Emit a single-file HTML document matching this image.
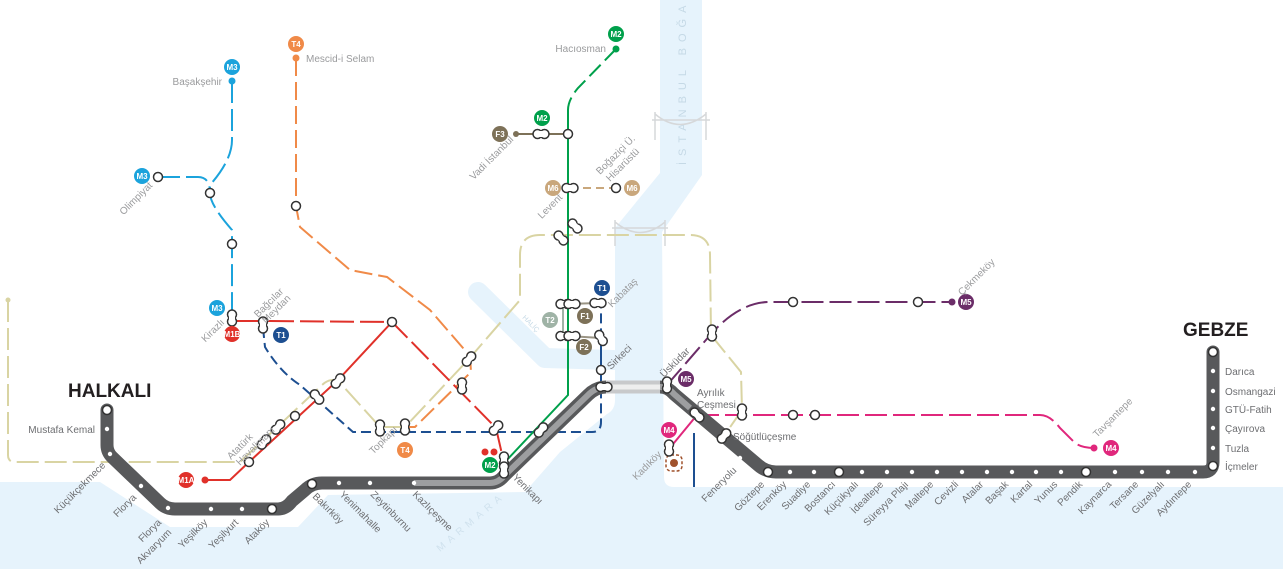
<!DOCTYPE html>
<html><head><meta charset="utf-8"><style>
html,body{margin:0;padding:0;background:#fff;}
svg{display:block;font-family:"Liberation Sans",sans-serif;}
.l{font-size:10px;fill:#6d6e71;}
.g{font-size:10px;fill:#9a9b9d;}
.b{font-size:8px;font-weight:bold;fill:#fff;text-anchor:middle;}
</style></head><body>
<svg width="1283" height="569" viewBox="0 0 1283 569" xmlns="http://www.w3.org/2000/svg">
<defs>
<g id="cap"><circle cx="-3.5" cy="0" r="4.5" fill="#fff" stroke="#333" stroke-width="1.5"/><circle cx="3.5" cy="0" r="4.5" fill="#fff" stroke="#333" stroke-width="1.5"/><rect x="-3.5" y="-3" width="7" height="6" fill="#fff"/></g>
<g id="st"><circle r="4.5" fill="#fff" stroke="#333" stroke-width="1.5"/></g>
</defs>
<rect width="1283" height="569" fill="#e6f3fc"/>
<!-- land -->
<path d="M0,0 L660,0 L660,173 L615,228 L615,400 Q615,410 607,414 L560,452 L525,492 L328,495 L298,527 L170,527 L100,482 L0,482 Z" fill="#fff"/>
<path d="M702,0 L1283,0 L1283,487 L674,487 Q664,487 664,477 L662,232 L702,175 Z" fill="#fff"/>
<path d="M478,292 L545,358 L613,360" fill="none" stroke="#e6f3fc" stroke-width="20" stroke-linecap="round" stroke-linejoin="round"/>
<text x="0" y="0" transform="translate(686,165) rotate(-90)" font-size="11" fill="#c5d9e6" letter-spacing="6">İSTANBUL BOĞAZI</text>
<text x="0" y="0" transform="translate(522,318) rotate(45)" font-size="7" fill="#c5d9e6">HALİÇ</text>
<text x="440" y="552" transform="rotate(-40 440 552)" font-size="10" fill="#d0e2ee" letter-spacing="5">MARMARA</text>
<!-- bridges -->
<g stroke="#d6d8da" stroke-width="1.5" fill="none">
<path d="M652,120 L710,120 M655,112 L655,140 M706,112 L706,140 M655,114 Q680,135 706,114"/>
<path d="M612,228 L668,228 M615,220 L615,246 M665,220 L665,246 M615,222 Q640,243 665,222"/>
</g>
<!-- beige line -->
<g fill="none" stroke="#d9d4a3" stroke-width="2" stroke-dasharray="22,6">
<path d="M8,300 L8,455 Q8,462 15,462 L240,462 L322,385 Q333,375 342,385 L380,427 L405,427 L468,360 L520,300 L520,255 Q520,235 540,235 L690,235 Q710,235 710,255 L711,335 L741,372 L742,410 L724,436"/>
</g>
<circle cx="8" cy="300" r="2.5" fill="#d9d4a3"/>
<!-- orange T4 -->
<path d="M296,58 L296,206 L300,227 L350,270 L387,277 L430,310 L470,356 L471,372 L415,427 L405,427" fill="none" stroke="#f08a48" stroke-width="2" stroke-dasharray="18,6"/>
<circle cx="296" cy="58" r="3.5" fill="#f08a48"/>
<!-- M3 -->
<path d="M232,81 L232,140 Q232,160 210,185 L210,193 Q210,205 232,230 L232,315" fill="none" stroke="#1ba3dc" stroke-width="2" stroke-dasharray="22,6"/>
<path d="M158,177 L198,177 Q210,177 210,193" fill="none" stroke="#1ba3dc" stroke-width="2" stroke-dasharray="22,6"/>
<circle cx="232" cy="81" r="3.5" fill="#1ba3dc"/>
<!-- red M1 -->
<path d="M232,321 L270,321" stroke="#e0312a" stroke-width="2"/>
<path d="M270,321 L392,322 L496,428 L504,463" fill="none" stroke="#e0312a" stroke-width="2" stroke-dasharray="24,6"/>
<path d="M392,322 L338,380 L249,462 L230,480 L205,480" fill="none" stroke="#e0312a" stroke-width="2"/>
<circle cx="205" cy="480" r="3.5" fill="#e0312a"/>
<!-- T1 -->
<path d="M263,328 L265,347 Q280,372 300,385 L353,432 L592,432 Q601,432 601,422 L601,305" fill="none" stroke="#1d4f91" stroke-width="2" stroke-dasharray="10,5"/>
<path d="M601,345 L601,387" stroke="#1d4f91" stroke-width="2"/>
<path d="M694,433 L694,487" stroke="#1d4f91" stroke-width="2"/>
<!-- M2 green -->
<path d="M616,49 L578,88 Q568,100 568,110" fill="none" stroke="#00a04b" stroke-width="2" stroke-dasharray="16,6"/>
<path d="M568,110 L568,395 L505,462" fill="none" stroke="#00a04b" stroke-width="2"/>
<circle cx="616" cy="49" r="3.5" fill="#00a04b"/>
<path d="M516,134 L568,134" stroke="#7d7158" stroke-width="2"/>
<circle cx="516" cy="134" r="3" fill="#7d7158"/>
<path d="M570,188 L616,188" stroke="#c9a77c" stroke-width="2" stroke-dasharray="8,5"/>
<!-- T2/F -->
<path d="M563,304 L563,336" stroke="#9fb3a6" stroke-width="2"/>
<path d="M568,304 L598,303 M568,336 L601,338" stroke="#9a9484" stroke-width="2"/>
<!-- M5 -->
<path d="M667,385 L712,333 Q740,302 770,302 L952,302" fill="none" stroke="#6b2d68" stroke-width="2" stroke-dasharray="22,6"/>
<circle cx="952" cy="302" r="3.5" fill="#6b2d68"/>
<!-- M4 -->
<path d="M669,449 L697,415" stroke="#e0277c" stroke-width="2"/>
<path d="M697,415 L1040,415 Q1050,415 1060,428 L1075,443 Q1082,448 1094,448" fill="none" stroke="#e0277c" stroke-width="2" stroke-dasharray="22,6"/>
<circle cx="1094" cy="448" r="3.5" fill="#e0277c"/>
<rect x="666" y="455" width="16" height="16" rx="5" fill="none" stroke="#a0522d" stroke-width="1.5" stroke-dasharray="3,2"/>
<circle cx="674" cy="463" r="4" fill="#a0522d"/>
<!-- Marmaray -->
<path d="M107,410 L107,445 Q107,452 112,457 L160,503 Q166,509 175,509 L278,509 Q286,509 292,501 L305,490 Q312,483 322,483 L490,483 Q498,483 504,476 L588,395 Q596,387 606,387 L660,387 Q668,387 674,394 L758,465 Q766,472 776,472 L1203,472 Q1213,472 1213,462 L1213,352" fill="none" stroke="#58595b" stroke-width="13" stroke-linecap="round" stroke-linejoin="round"/>
<path d="M414,483 L490,483 Q498,483 504,476 L588,395 Q596,387 606,387 L660,387 Q668,387 674,394 L690,408" fill="none" stroke="#9d9ea0" stroke-width="6"/>
<path d="M606,387 L660,387" stroke="#c8c9cb" stroke-width="13"/>
<path d="M606,387 L660,387" stroke="#eeeeee" stroke-width="5"/>
<!-- small dots -->
<g fill="#fff">
<circle cx="107" cy="429" r="2.2"/><circle cx="110" cy="454" r="2.2"/><circle cx="141" cy="486" r="2.2"/><circle cx="168" cy="508" r="2.2"/><circle cx="211" cy="509" r="2.2"/><circle cx="242" cy="509" r="2.2"/><circle cx="339" cy="483" r="2.2"/><circle cx="370" cy="483" r="2.2"/><circle cx="414" cy="483" r="2.2"/><circle cx="740" cy="458" r="2.2"/>
<circle cx="790" cy="472" r="2.2"/><circle cx="814" cy="472" r="2.2"/><circle cx="862" cy="472" r="2.2"/><circle cx="887" cy="472" r="2.2"/><circle cx="912" cy="472" r="2.2"/><circle cx="937" cy="472" r="2.2"/><circle cx="962" cy="472" r="2.2"/><circle cx="987" cy="472" r="2.2"/><circle cx="1012" cy="472" r="2.2"/><circle cx="1036" cy="472" r="2.2"/><circle cx="1061" cy="472" r="2.2"/><circle cx="1115" cy="472" r="2.2"/><circle cx="1142" cy="472" r="2.2"/><circle cx="1168" cy="472" r="2.2"/><circle cx="1195" cy="472" r="2.2"/>
<circle cx="1213" cy="371" r="2.2"/><circle cx="1213" cy="391" r="2.2"/><circle cx="1213" cy="409" r="2.2"/><circle cx="1213" cy="428" r="2.2"/><circle cx="1213" cy="448" r="2.2"/>
</g>
<!-- stations -->
<use href="#st" x="107" y="410"/><use href="#st" x="272" y="509"/><use href="#st" x="312" y="484"/><use href="#st" x="768" y="472"/><use href="#st" x="839" y="472"/><use href="#st" x="1086" y="472"/><use href="#st" x="1213" y="466"/><use href="#st" x="1213" y="352"/>
<use href="#st" x="158" y="177"/><use href="#st" x="210" y="193"/><use href="#st" x="232" y="244"/><use href="#st" x="296" y="206"/><use href="#st" x="392" y="322"/><use href="#st" x="249" y="462"/><use href="#st" x="295" y="416"/>
<use href="#st" x="568" y="134"/><use href="#st" x="616" y="188"/><use href="#st" x="601" y="370"/><use href="#st" x="793" y="302"/><use href="#st" x="918" y="302"/><use href="#st" x="793" y="415"/><use href="#st" x="815" y="415"/>
<!-- interchanges -->
<use href="#cap" transform="translate(232,318) rotate(90)"/><use href="#cap" transform="translate(263,325) rotate(90)"/>
<use href="#cap" transform="translate(338,381) rotate(-50)"/><use href="#cap" transform="translate(317,397) rotate(50)"/><use href="#cap" transform="translate(278,427) rotate(-50)"/><use href="#cap" transform="translate(264,442) rotate(-50)"/>
<use href="#cap" transform="translate(380,428) rotate(90)"/><use href="#cap" transform="translate(405,427) rotate(90)"/><use href="#cap" transform="translate(469,359) rotate(-50)"/><use href="#cap" transform="translate(462,386) rotate(90)"/><use href="#cap" transform="translate(496,428) rotate(-50)"/><use href="#cap" transform="translate(541,430) rotate(-50)"/>
<use href="#cap" transform="translate(504,460) rotate(90)"/><use href="#cap" transform="translate(504,470) rotate(90)"/>
<use href="#cap" transform="translate(541,134)"/><use href="#cap" transform="translate(570,188)"/><use href="#cap" transform="translate(575,226) rotate(45)"/><use href="#cap" transform="translate(561,238) rotate(45)"/>
<use href="#cap" transform="translate(564,304)"/><use href="#cap" transform="translate(572,304)"/><use href="#cap" transform="translate(598,303)"/><use href="#cap" transform="translate(564,336)"/><use href="#cap" transform="translate(572,336)"/><use href="#cap" transform="translate(601,338) rotate(60)"/>
<use href="#cap" transform="translate(604,387)"/><use href="#cap" transform="translate(667,385) rotate(90)"/><use href="#cap" transform="translate(712,333) rotate(90)"/><use href="#cap" transform="translate(697,415) rotate(45)"/><use href="#cap" transform="translate(742,412) rotate(90)"/><use href="#cap" transform="translate(724,436) rotate(-50)"/><use href="#cap" transform="translate(669,448) rotate(90)"/>
<!-- badges -->
<g>
<circle cx="616" cy="34" r="8" fill="#00a04b"/><text class="b" x="616" y="37">M2</text>
<circle cx="542" cy="118" r="8" fill="#00a04b"/><text class="b" x="542" y="121">M2</text>
<circle cx="500" cy="134" r="8" fill="#7d7158"/><text class="b" x="500" y="137">F3</text>
<circle cx="553" cy="188" r="8" fill="#c9a77c"/><text class="b" x="553" y="191">M6</text>
<circle cx="632" cy="188" r="8" fill="#c9a77c"/><text class="b" x="632" y="191">M6</text>
<circle cx="602" cy="288" r="8" fill="#1d4f91"/><text class="b" x="602" y="291">T1</text>
<circle cx="550" cy="320" r="8" fill="#9fb3a6"/><text class="b" x="550" y="323">T2</text>
<circle cx="585" cy="316" r="8" fill="#7d7158"/><text class="b" x="585" y="319">F1</text>
<circle cx="584" cy="347" r="8" fill="#7d7158"/><text class="b" x="584" y="350">F2</text>
<circle cx="296" cy="44" r="8" fill="#f08a48"/><text class="b" x="296" y="47">T4</text>
<circle cx="405" cy="450" r="8" fill="#f08a48"/><text class="b" x="405" y="453">T4</text>
<circle cx="232" cy="67" r="8" fill="#1ba3dc"/><text class="b" x="232" y="70">M3</text>
<circle cx="142" cy="176" r="8" fill="#1ba3dc"/><text class="b" x="142" y="179">M3</text>
<circle cx="217" cy="308" r="8" fill="#1ba3dc"/><text class="b" x="217" y="311">M3</text>
<circle cx="232" cy="334" r="8" fill="#e0312a"/><text class="b" x="232" y="337">M1B</text>
<circle cx="281" cy="335" r="8" fill="#1d4f91"/><text class="b" x="281" y="338">T1</text>
<circle cx="186" cy="480" r="8" fill="#e0312a"/><text class="b" x="186" y="483">M1A</text>
<circle cx="490" cy="465" r="8" fill="#00a04b"/><text class="b" x="490" y="468">M2</text>
<circle cx="485" cy="452" r="3.5" fill="#e0312a"/><circle cx="494" cy="452" r="3.5" fill="#e0312a"/>
<circle cx="686" cy="379" r="8" fill="#6b2d68"/><text class="b" x="686" y="382">M5</text>
<circle cx="966" cy="302" r="8" fill="#6b2d68"/><text class="b" x="966" y="305">M5</text>
<circle cx="669" cy="430" r="8" fill="#e0277c"/><text class="b" x="669" y="433">M4</text>
<circle cx="1111" cy="448" r="8" fill="#e0277c"/><text class="b" x="1111" y="451">M4</text>
</g>
<!-- big titles -->
<text x="68" y="397" font-size="19" font-weight="bold" fill="#231f20">HALKALI</text>
<text x="1183" y="336" font-size="19" font-weight="bold" fill="#231f20">GEBZE</text>
<!-- labels -->
<text class="l" x="95" y="433" text-anchor="end">Mustafa Kemal</text>
<text class="l" x="1225" y="375">Darıca</text><text class="l" x="1225" y="395">Osmangazi</text><text class="l" x="1225" y="413">GTÜ-Fatih</text><text class="l" x="1225" y="432">Çayırova</text><text class="l" x="1225" y="452">Tuzla</text><text class="l" x="1225" y="470">İçmeler</text>
<text class="l" x="733" y="440">Söğütlüçeşme</text>
<text class="l" x="697" y="396">Ayrılık</text><text class="l" x="697" y="408">Çeşmesi</text>
<g class="l" text-anchor="end">
<text x="106" y="466" transform="rotate(-45 106 466)">Küçükçekmece</text>
<text x="137" y="498" transform="rotate(-45 137 498)">Florya</text>
<text x="162" y="523" transform="rotate(-45 162 523)">Florya</text>
<text x="172" y="533" transform="rotate(-45 172 533)">Akvaryum</text>
<text x="208" y="523" transform="rotate(-45 208 523)">Yeşilköy</text>
<text x="239" y="523" transform="rotate(-45 239 523)">Yeşilyurt</text>
<text x="270" y="523" transform="rotate(-45 270 523)">Ataköy</text>
<text x="737" y="471" transform="rotate(-45 737 471)">Feneryolu</text>
<text x="765" y="485" transform="rotate(-45 765 485)">Göztepe</text>
<text x="787" y="485" transform="rotate(-45 787 485)">Erenköy</text>
<text x="811" y="485" transform="rotate(-45 811 485)">Suadiye</text>
<text x="836" y="485" transform="rotate(-45 836 485)">Bostancı</text>
<text x="859" y="485" transform="rotate(-45 859 485)">Küçükyalı</text>
<text x="884" y="485" transform="rotate(-45 884 485)">İdealtepe</text>
<text x="909" y="485" transform="rotate(-45 909 485)">Süreyya Plajı</text>
<text x="934" y="485" transform="rotate(-45 934 485)">Maltepe</text>
<text x="959" y="485" transform="rotate(-45 959 485)">Cevizli</text>
<text x="984" y="485" transform="rotate(-45 984 485)">Atalar</text>
<text x="1009" y="485" transform="rotate(-45 1009 485)">Başak</text>
<text x="1033" y="485" transform="rotate(-45 1033 485)">Kartal</text>
<text x="1058" y="485" transform="rotate(-45 1058 485)">Yunus</text>
<text x="1083" y="485" transform="rotate(-45 1083 485)">Pendik</text>
<text x="1112" y="485" transform="rotate(-45 1112 485)">Kaynarca</text>
<text x="1139" y="485" transform="rotate(-45 1139 485)">Tersane</text>
<text x="1165" y="485" transform="rotate(-45 1165 485)">Güzelyalı</text>
<text x="1192" y="485" transform="rotate(-45 1192 485)">Aydıntepe</text>
</g>
<g class="l">
<text x="312" y="497" transform="rotate(45 312 497)">Bakırköy</text>
<text x="339" y="495" transform="rotate(45 339 495)">Yenimahalle</text>
<text x="370" y="495" transform="rotate(45 370 495)">Zeytinburnu</text>
<text x="412" y="495" transform="rotate(45 412 495)">Kazlıçeşme</text>
<text x="512" y="478" transform="rotate(45 512 478)">Yenikapı</text>
<text x="611" y="370" transform="rotate(-45 611 370)">Sirkeci</text>
<text x="664" y="378" transform="rotate(-45 664 378)">Üsküdar</text>
</g>
<g class="g">
<text x="606" y="52" text-anchor="end">Hacıosman</text>
<text x="306" y="62">Mescid-i Selam</text>
<text x="222" y="85" text-anchor="end">Başakşehir</text>
<text x="153" y="186" text-anchor="end" transform="rotate(-45 153 186)">Olimpiyat</text>
<text x="225" y="323" text-anchor="end" transform="rotate(-45 225 323)">Kirazlı</text>
<text x="258" y="318" transform="rotate(-45 258 318)">Bağcılar</text>
<text x="266" y="324" transform="rotate(-45 266 324)">Meydan</text>
<text x="231" y="460" transform="rotate(-45 231 460)">Atatürk</text>
<text x="240" y="466" transform="rotate(-45 240 466)">Havalimanı</text>
<text x="398" y="430" text-anchor="end" transform="rotate(-45 398 430)">Topkapı</text>
<text x="514" y="140" text-anchor="end" transform="rotate(-45 514 140)">Vadi İstanbul</text>
<text x="600" y="175" transform="rotate(-45 600 175)">Boğaziçi Ü.</text>
<text x="610" y="182" transform="rotate(-45 610 182)">Hisarüstü</text>
<text x="563" y="198" text-anchor="end" transform="rotate(-45 563 198)">Levent</text>
<text x="612" y="308" transform="rotate(-45 612 308)">Kabataş</text>
<text x="962" y="296" transform="rotate(-45 962 296)">Çekmeköy</text>
<text x="1097" y="438" transform="rotate(-45 1097 438)">Tavşantepe</text>
<text x="662" y="455" text-anchor="end" transform="rotate(-45 662 455)">Kadıköy</text>
</g>
</svg>
</body></html>
